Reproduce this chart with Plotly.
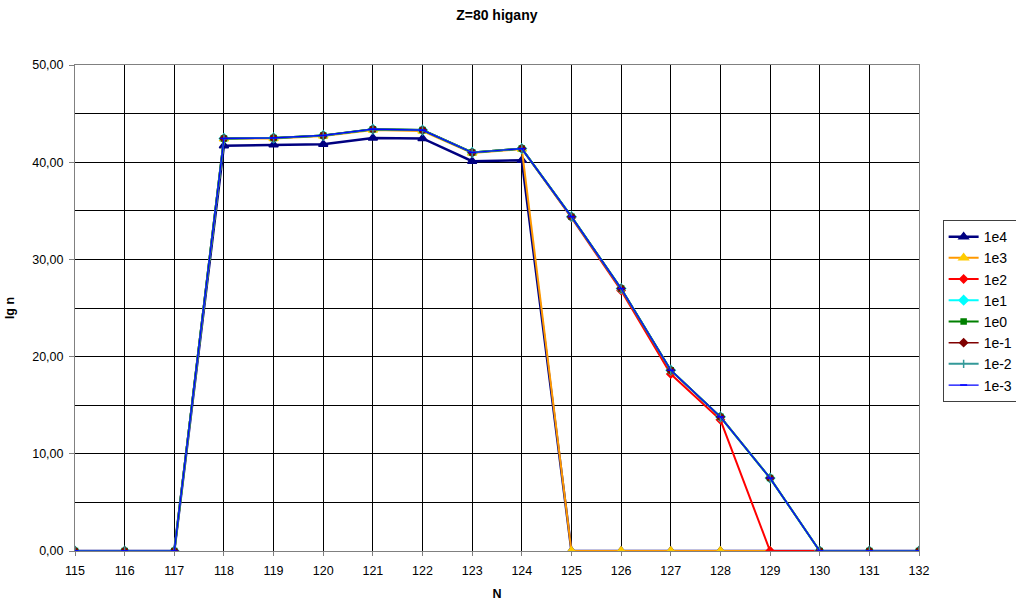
import plotly.graph_objects as go

# Neutron number N and lg n values for each series
N = list(range(115, 133))

s_1e4 = [0, 0, 0, 41.7, 41.8, 41.85, 42.5, 42.45, 40.1, 40.2, 0, 0, 0, 0, 0, 0, 0, 0]
s_1e3 = [0, 0, 0, 42.4, 42.45, 42.7, 43.3, 43.2, 40.95, 41.35, 0, 0, 0, 0, 0, 0, 0, 0]
s_1e2 = [0, 0, 0, 42.45, 42.5, 42.75, 43.4, 43.3, 41.0, 41.4, 34.3, 26.8, 18.2, 13.5, 0, 0, 0, 0]
s_1e1 = [0, 0, 0, 42.45, 42.5, 42.75, 43.4, 43.3, 41.0, 41.4, 34.4, 27.0, 18.6, 13.8, 7.5, 0, 0, 0]
s_1e0 = [0, 0, 0, 42.45, 42.5, 42.75, 43.4, 43.3, 41.0, 41.4, 34.4, 27.0, 18.6, 13.8, 7.5, 0, 0, 0]
s_1em1 = [0, 0, 0, 42.45, 42.5, 42.75, 43.4, 43.3, 41.0, 41.4, 34.4, 27.0, 18.6, 13.8, 7.5, 0, 0, 0]
s_1em2 = [0, 0, 0, 42.45, 42.5, 42.75, 43.4, 43.3, 41.0, 41.4, 34.4, 27.0, 18.6, 13.8, 7.5, 0, 0, 0]
s_1em3 = [0, 0, 0, 42.45, 42.5, 42.75, 43.4, 43.3, 41.0, 41.4, 34.4, 27.0, 18.6, 13.8, 7.5, 0, 0, 0]

y_ticks = [0, 10, 20, 30, 40, 50]
y_tick_labels = ["0,00", "10,00", "20,00", "30,00", "40,00", "50,00"]

series = [
    ("1e4", s_1e4, "#000080", "#000080", "triangle-up", 8, 2.5),
    ("1e3", s_1e3, "#FF9900", "#FFCC00", "triangle-up", 8, 2),
    ("1e2", s_1e2, "#FF0000", "#FF0000", "diamond", 6, 2),
    ("1e1", s_1e1, "#00FFFF", "#00FFFF", "diamond", 7, 2),
    ("1e0", s_1e0, "#008000", "#008000", "square", 5, 2),
    ("1e-1", s_1em1, "#800000", "#800000", "diamond", 6, 1.5),
    ("1e-2", s_1em2, "#339999", "#339999", "line-ns", 6, 2),
    ("1e-3", s_1em3, "#0000FF", "#0000FF", "line-ew", 5, 1.2),
]

fig = go.Figure()
for name, vals, lc, mc, sym, size, lw in series:
    fig.add_trace(go.Scatter(
        x=N, y=vals, name=name, mode="lines+markers",
        line=dict(color=lc, width=lw),
        marker=dict(symbol=sym, size=size, color=mc,
                    line=dict(color=mc, width=1.5)),
    ))

font_family = "Liberation Sans, Arial, sans-serif"

fig.update_layout(
    width=1016, height=605,
    margin=dict(l=75, r=97, t=65, b=54, autoexpand=False),
    paper_bgcolor="white", plot_bgcolor="white",
    font=dict(family=font_family, size=12.5, color="black"),
    title=dict(text="<b>Z=80 higany</b>", x=0.489, xanchor="center",
               y=0.975, yanchor="middle", font=dict(size=14)),
    showlegend=True,
    legend=dict(x=1.028, xanchor="left", y=0.681, yanchor="top",
                bordercolor="#404040", borderwidth=1, bgcolor="white",
                font=dict(size=14), tracegroupgap=0, itemwidth=30),
    xaxis=dict(
        range=[115, 132], tickmode="linear", tick0=115, dtick=1,
        showgrid=True, gridcolor="black", gridwidth=1,
        showline=True, linecolor="#808080", linewidth=1, mirror=True,
        ticks="outside", ticklen=4, tickcolor="#808080",
        ticklabelstandoff=4,
        zeroline=False,
        title=dict(text="<b>N</b>", font=dict(size=12.5), standoff=12),
    ),
    yaxis=dict(
        range=[0, 50], tickmode="array", tickvals=y_ticks, ticktext=y_tick_labels,
        showgrid=True, gridcolor="black", gridwidth=1,
        minor=dict(dtick=5, showgrid=True, gridcolor="black", gridwidth=1),
        showline=True, linecolor="#808080", linewidth=1, mirror=True,
        ticks="outside", ticklen=5, tickcolor="#808080",
        ticklabelstandoff=3,
        zeroline=False,
        title=dict(text="<b>lg n</b>", font=dict(size=12.5), standoff=14),
    ),
)

fig.write_html("out.html")
